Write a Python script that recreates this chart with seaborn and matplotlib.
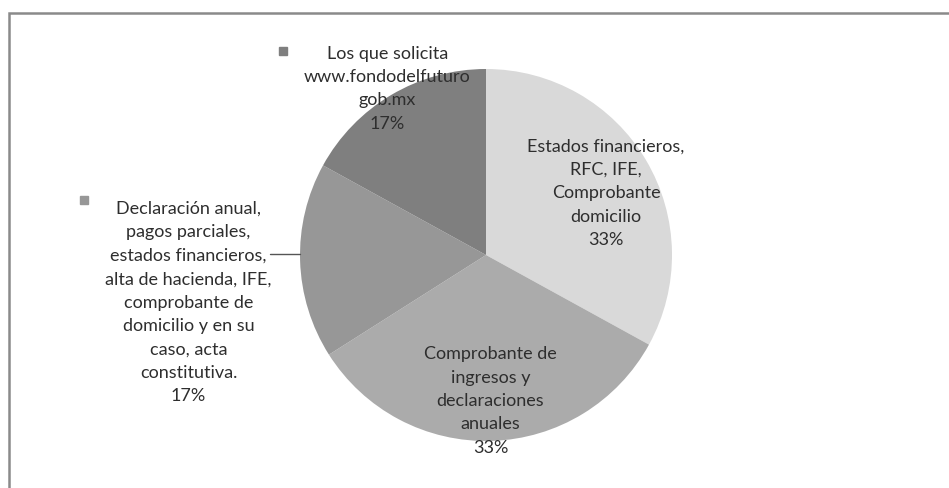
import numpy as np
import matplotlib
matplotlib.use("Agg")
import matplotlib.pyplot as plt
from matplotlib.patches import Rectangle
import seaborn as sns

# Requisitos solicitados para el trámite (porcentaje de menciones)
categories = [
    "Estados financieros,\nRFC, IFE,\nComprobante\ndomicilio",
    "Comprobante de\ningresos y\ndeclaraciones\nanuales",
    "Declaración anual,\npagos parciales,\nestados financieros,\nalta de hacienda, IFE,\ncomprobante de\ndomicilio y en su\ncaso, acta\nconstitutiva.",
    "Los que solicita\nwww.fondodelfuturo\ngob.mx",
]
values = [33, 33, 17, 17]
pct_labels = ["33%", "33%", "17%", "17%"]

colors = ["#d9d9d9", "#ababab", "#979797", "#7f7f7f"]
text_color = "#2e2e2e"

sns.set_theme(style="white")
plt.rcParams["font.family"] = ["Lato", "DejaVu Sans"]

W, H, DPI = 949, 489, 100
fig = plt.figure(figsize=(W / DPI, H / DPI), dpi=DPI)
fig.patch.set_facecolor("white")
ax = fig.add_axes([0, 0, 1, 1])

wedges, _ = ax.pie(values, colors=colors, startangle=90, counterclock=False,
                   radius=1.0, wedgeprops=dict(linewidth=0))

# pixel-scaled limits: pie centre at (486, 256), radius 186 px
cx, cy, R = 486, 256, 186
ax.set_xlim(-cx / R, (W - cx) / R)
ax.set_ylim(-(H - cy) / R, cy / R)
ax.set_aspect("auto")
ax.axis("off")

# label placement: radius along the wedge's mid angle plus a small shift
label_radius = [0.75, 0.78, 1.62, 1.08]
label_shift = [(0.0, -0.045), (0.0, 0.0), (0.02, -0.20), (0.02, -0.03)]
show_key = [False, False, True, True]
key_lift = [0.0, 0.0, 0.03, 0.005]
fs = 13
line_h = 24 / R

for w, txt, pct, r, (dx, dy), key, lift, col in zip(
        wedges, categories, pct_labels, label_radius, label_shift,
        show_key, key_lift, colors):
    mid = np.deg2rad((w.theta1 + w.theta2) / 2)
    x = r * np.cos(mid) + dx
    y = r * np.sin(mid) + dy
    full = txt + "\n" + pct
    ax.text(x, y, full, ha="center", va="center", fontsize=fs, color=text_color,
            linespacing=1.57)
    if key:
        n_lines = full.count("\n") + 1
        top_y = y + (n_lines - 1) / 2 * line_h
        ax.plot([x - 0.56], [top_y + lift], marker="s", markersize=5.5,
                color=col, linestyle="none")

# leader line from the left label to its wedge
w3 = wedges[2]
mid3 = np.deg2rad((w3.theta1 + w3.theta2) / 2)
ex, ey = np.cos(mid3), np.sin(mid3)
ax.plot([ex - 0.16, ex], [0.005, 0.005], color="#555555", linewidth=1)

# chart-area frame
fig.patches.append(Rectangle((9 / W, -0.1), 1.2, (H - 14) / H + 0.1,
                             transform=fig.transFigure, fill=False,
                             edgecolor="#8a8a8a", linewidth=1.8))

fig.savefig("out.png", dpi=DPI, facecolor="white")
